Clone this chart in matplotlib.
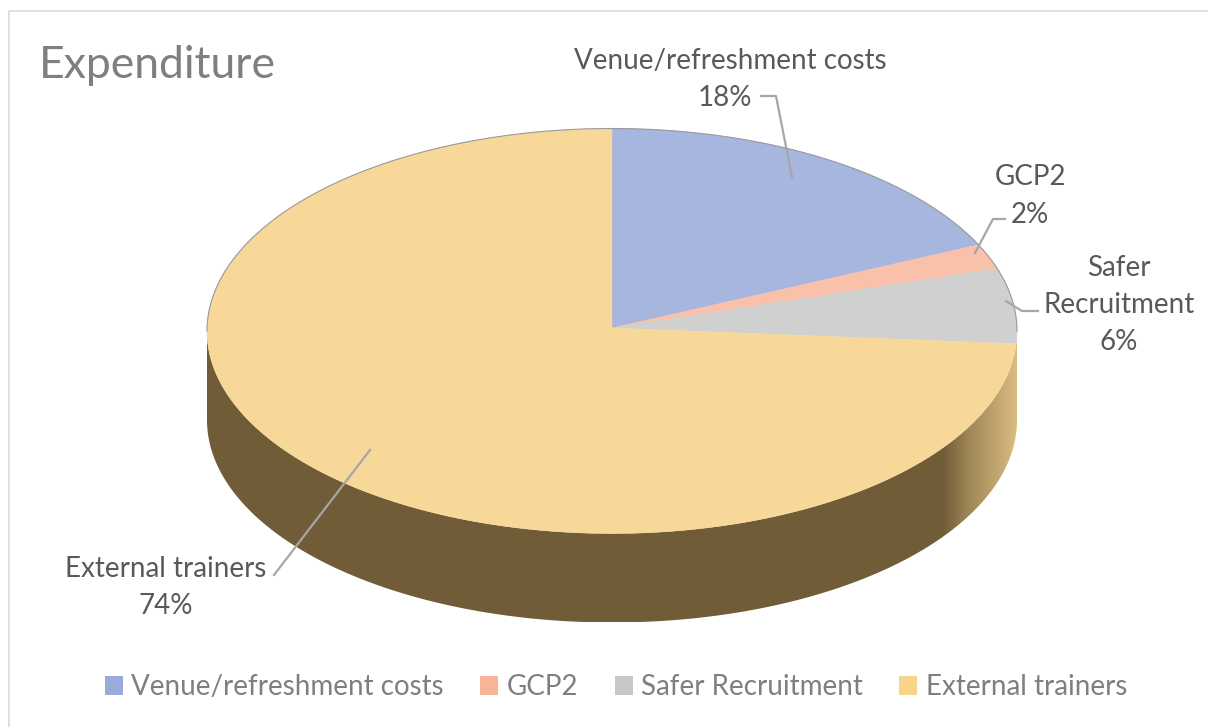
import numpy as np
import matplotlib
matplotlib.use('Agg')
import matplotlib.pyplot as plt
from matplotlib.patches import Patch, Polygon
from matplotlib.colors import LinearSegmentedColormap

plt.rcParams['font.family'] = ['Lato', 'DejaVu Sans']

# data
categories = ['Venue/refreshment costs', 'GCP2', 'Safer Recruitment', 'External trainers']
values = [18, 2, 6, 74]
colors = ['#a6b6de', '#f9c0aa', '#d0d0d0', '#f8d899']
legend_colors = ['#98abd9', '#f7b496', '#c8c8c8', '#f8d38a']

# pie geometry in pixels
apex_x, apex_y = 612, 328
cx, cy = 612, 331
rx, ry = 405, 202.5
depth = 89


def rim(t):
    # t is percent of the circle, clockwise from the top
    a = 2 * np.pi * np.asarray(t) / 100
    return cx + rx * np.sin(a), cy - ry * np.cos(a)


fig = plt.figure(figsize=(12.08, 7.27), dpi=100)
ax = fig.add_axes([0, 0, 1, 1])
ax.set_xlim(0, 1208)
ax.set_ylim(727, 0)
ax.axis('off')

# chart border
ax.plot([8.5, 8.5, 1208], [727, 10.5, 10.5], color='#d9d9d9', lw=1.2)

# side wall, dark brown with a light end on the right
x, y = rim(np.linspace(25, 75, 300))
wall = Polygon(np.c_[np.r_[x, x[::-1]], np.r_[y, y[::-1] + depth]], fc='none', ec='none', zorder=2)
ax.add_patch(wall)
wall_cmap = LinearSegmentedColormap.from_list(
    'wall', [(0, '#715c38'), (0.91, '#715c38'), (0.94, '#9c8454'), (1, '#d8bb80')])
grad = np.linspace(0, 1, 512).reshape(1, -1)
im = ax.imshow(grad, extent=(207, 1017, 622, 331), cmap=wall_cmap, aspect='auto', zorder=2)
im.set_clip_path(wall)
ax.set_xlim(0, 1208)
ax.set_ylim(727, 0)

# top face
start = 0
for v, c in zip(values, colors):
    x, y = rim(np.linspace(start, start + v, 200))
    ax.fill(np.r_[apex_x, x], np.r_[apex_y, y], fc=c, ec=c, lw=0.3, zorder=3)
    start += v
x, y = rim(np.linspace(-25, 25, 300))
ax.plot(x, y, color='#9a9a9a', lw=0.8, zorder=4)

# leader lines
line_c = '#a6a6a6'
ax.plot([761, 776, 792], [96, 96, 177], color=line_c, lw=1.6, zorder=5)
ax.plot([1005, 993, 975], [219, 219, 253], color=line_c, lw=1.6, zorder=5)
ax.plot([1038, 1022, 1006], [311, 311, 301], color=line_c, lw=1.6, zorder=5)
ax.plot([274, 370], [575, 450], color=line_c, lw=1.6, zorder=5)

# labels
label_c = '#595959'
fs = 20
ax.text(730, 61, categories[0], ha='center', va='center', fontsize=fs, color=label_c)
ax.text(725, 98, '%d%%' % values[0], ha='center', va='center', fontsize=fs, color=label_c)
ax.text(1030, 177, categories[1], ha='center', va='center', fontsize=fs, color=label_c)
ax.text(1030, 215, '%d%%' % values[1], ha='center', va='center', fontsize=fs, color=label_c)
ax.text(1119, 268, 'Safer', ha='center', va='center', fontsize=fs, color=label_c)
ax.text(1119, 305, 'Recruitment', ha='center', va='center', fontsize=fs, color=label_c)
ax.text(1119, 342, '%d%%' % values[2], ha='center', va='center', fontsize=fs, color=label_c)
ax.text(166, 569, categories[3], ha='center', va='center', fontsize=fs, color=label_c)
ax.text(166, 606, '%d%%' % values[3], ha='center', va='center', fontsize=fs, color=label_c)

ax.text(39, 66, 'Expenditure', ha='left', va='center', fontsize=32, color='#7f7f7f')

# legend
handles = [Patch(fc=c, ec='none') for c in legend_colors]
ax.legend(handles, categories, ncol=4, loc='center', bbox_to_anchor=(616 / 1208, 1 - 687 / 727),
          frameon=False, fontsize=fs, labelcolor='#7f7f7f', handlelength=0.65, handleheight=0.65,
          handletextpad=0.3, columnspacing=1.31, borderpad=0)

fig.savefig('out.png', dpi=100)
